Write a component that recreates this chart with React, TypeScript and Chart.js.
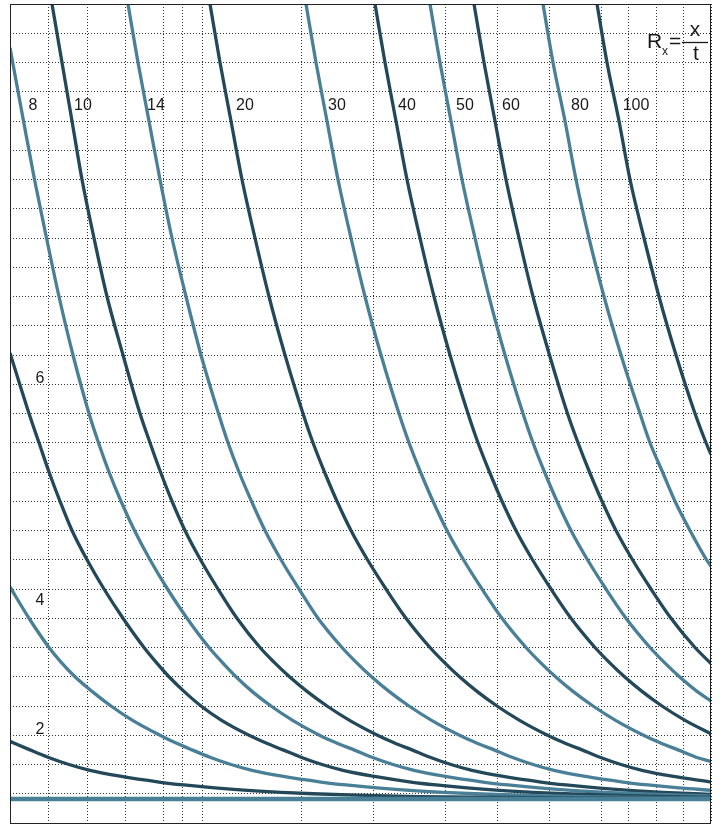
import React, { useEffect, useRef } from "react";
import { Chart, registerables } from "chart.js";

Chart.register(...registerables);

const DARK = "#234859";
const LIGHT = "#4a7f98";

// irregular vertical grid positions (x units) and horizontal grid (y units)
const gridX = [0, 38, 77, 115, 153, 172, 192, 291, 363, 435, 487, 539, 591, 618, 646, 673, 701];
const gridY = [0, 1, 2, 3, 4, 5, 6, 7, 8, 9, 10, 11, 12, 13, 14, 15, 16, 17, 18, 19, 20, 21, 22, 23, 24, 25, 26, 27, 28];

// curve readings [x, y]
const r2 = [[0, 2.79], [20, 2.5], [38, 2.25], [59, 2], [80, 1.8], [110, 1.6], [149, 1.4], [174, 1.3], [205, 1.2], [245, 1.1], [271, 1.05], [303, 1.0], [346, 0.95], [409, 0.9], [550, 0.86], [701, 0.84]];
const r4 = [[0, 8.07], [19, 7], [39, 6], [51, 5.5], [65, 5], [82, 4.5], [101, 4], [123, 3.5], [150, 3], [165, 2.75], [182, 2.5], [200, 2.25], [221, 2], [242, 1.8], [272, 1.6], [311, 1.4], [336, 1.3], [367, 1.2], [407, 1.1], [433, 1.05], [465, 1.0], [508, 0.95], [571, 0.9], [701, 0.86]];
const r6 = [[0, 16.07], [19, 14], [29, 13], [39, 12], [50, 11], [62, 10], [77, 9], [94, 8], [113, 7], [134, 6], [146, 5.5], [159, 5], [174, 4.5], [191, 4], [212, 3.5], [239, 3], [255, 2.75], [273, 2.5], [291, 2.25], [312, 2], [333, 1.8], [363, 1.6], [401, 1.4], [426, 1.3], [457, 1.2], [497, 1.1], [523, 1.05], [555, 1.0], [598, 0.95], [661, 0.9], [701, 0.88]];
const r8 = [[0, 26.5], [13.5, 24], [24.5, 22], [36.5, 20], [49, 18], [63, 16], [79, 14], [88.5, 13], [99, 12], [111, 11], [124.5, 10], [140, 9], [157.5, 8], [177, 7], [199, 6], [212, 5.5], [226, 5], [242, 4.5], [261, 4], [283, 3.5], [309.5, 3], [325.5, 2.75], [344, 2.5], [362, 2.25], [383, 2], [404, 1.8], [434, 1.6], [473, 1.4], [498, 1.3], [529, 1.2], [569, 1.1], [595, 1.05], [627, 1.0], [670, 0.95], [701, 0.93]];
const r10 = [[42, 28], [52, 26], [62, 24], [72, 22], [84, 20], [97, 18], [113, 16], [130, 14], [140, 13], [150.5, 12], [162, 11], [175, 10], [190.5, 9], [208, 8], [227, 7], [250, 6], [264, 5.5], [279.5, 5], [297, 4.5], [317, 4], [340, 3.5], [367.5, 3], [383.5, 2.75], [402, 2.5], [420, 2.25], [441, 2], [462, 1.8], [492, 1.6], [531, 1.4], [556, 1.3], [587, 1.2], [627, 1.1], [653, 1.05], [685, 1.0], [701, 0.98]];
const r14 = [[118, 28], [128, 26], [139, 24], [150, 22], [162, 20], [176, 18], [191, 16], [208.5, 14], [218, 13], [229, 12], [241.5, 11], [255, 10], [271, 9], [289, 8], [308, 7], [332, 6], [346, 5.5], [361.5, 5], [379, 4.5], [399, 4], [422, 3.5], [449.5, 3], [465.5, 2.75], [484, 2.5], [502, 2.25], [523, 2], [544, 1.8], [574, 1.6], [613, 1.4], [638, 1.3], [669, 1.2], [701, 1.12]];
const r20 = [[200, 28], [210, 26], [221, 24], [232, 22], [245, 20], [259, 18], [275, 16], [293, 14], [303, 13], [314.5, 12], [327, 11], [341, 10], [357.5, 9], [376, 8], [396, 7], [420, 6], [434, 5.5], [449.5, 5], [467, 4.5], [487, 4], [510, 3.5], [537.5, 3], [553.5, 2.75], [572, 2.5], [590, 2.25], [611, 2], [632, 1.8], [662, 1.6], [701, 1.4]];
const r30 = [[296, 28], [306, 26], [317, 24], [328, 22], [341, 20], [355, 18], [371, 16], [389, 14], [399, 13], [410.5, 12], [423, 11], [437, 10], [453.5, 9], [472, 8], [492, 7], [516, 6], [530, 5.5], [545.5, 5], [563, 4.5], [583, 4], [606, 3.5], [633.5, 3], [649.5, 2.75], [668, 2.5], [686, 2.25], [701, 2.1]];
const r40 = [[365, 28], [375, 26], [386, 24], [397, 22], [410, 20], [424, 18], [440, 16], [458, 14], [468, 13], [479.5, 12], [492, 11], [506, 10], [522.5, 9], [541, 8], [561, 7], [585, 6], [599, 5.5], [614.5, 5], [632, 4.5], [652, 4], [675.5, 3.5], [701, 3.05]];
const r50 = [[420, 28], [430, 26], [441, 24], [452, 22], [465, 20], [479, 18], [495, 16], [513, 14], [523, 13], [534.5, 12], [547, 11], [561, 10], [577.5, 9], [596, 8], [616, 7], [640, 6], [654, 5.5], [669.5, 5], [687, 4.5], [701, 4.17]];
const r60 = [[464, 28], [474, 26], [485, 24], [496, 22], [509, 20], [523, 18], [539.5, 16], [557.5, 14], [568, 13], [579.5, 12], [592, 11], [606, 10], [622.5, 9], [641, 8], [661, 7], [685, 6], [701, 5.45]];
const r80 = [[533, 28], [543, 26], [555, 24], [566, 22], [579, 20], [594, 18], [611, 16], [630, 14], [640, 13], [652.5, 12], [665, 11], [680, 10], [696.5, 9], [701, 8.78]];
const r100 = [[587, 28], [597, 26], [609, 24], [620, 22], [634, 20], [649, 18], [666, 16], [685, 14], [696, 13], [701, 12.6]];
const baseline = [[0, 0.82], [701, 0.82]];

// curve labels
const topLabels = ["8", "10", "14", "20", "30", "40", "50", "60", "80", "100"];
const topLabelX = [23, 73, 146, 235, 327, 397, 455, 501, 570, 626];
const topLabelY = 24.51;
const sideLabels = ["6", "4", "2"];
const sideLabelX = 30;
const sideLabelY = [15.18, 7.59, 3.18];

const FONT = "'Liberation Sans', Arial, Helvetica, sans-serif";

const toPts = (arr: number[][]) => arr.map(([x, y]) => ({ x, y }));

const series: { pts: number[][]; color: string; width: number }[] = [
  { pts: baseline, color: LIGHT, width: 4.5 },
  { pts: r2, color: DARK, width: 3.3 },
  { pts: r4, color: LIGHT, width: 3.3 },
  { pts: r6, color: DARK, width: 3.3 },
  { pts: r8, color: LIGHT, width: 3.3 },
  { pts: r10, color: DARK, width: 3.3 },
  { pts: r14, color: LIGHT, width: 3.3 },
  { pts: r20, color: DARK, width: 3.3 },
  { pts: r30, color: LIGHT, width: 3.3 },
  { pts: r40, color: DARK, width: 3.3 },
  { pts: r50, color: LIGHT, width: 3.3 },
  { pts: r60, color: DARK, width: 3.3 },
  { pts: r80, color: LIGHT, width: 3.3 },
  { pts: r100, color: DARK, width: 3.3 },
];

const decorPlugin = {
  id: "decor",
  afterDatasetsDraw(chart: any) {
    const { ctx, chartArea, scales } = chart;
    const xs = scales.x;
    const ys = scales.y;
    ctx.save();
    ctx.fillStyle = "#1a1a1a";
    ctx.font = `16px ${FONT}`;
    ctx.textAlign = "center";
    ctx.textBaseline = "middle";
    topLabels.forEach((t, i) => {
      ctx.fillText(t, xs.getPixelForValue(topLabelX[i]), ys.getPixelForValue(topLabelY));
    });
    sideLabels.forEach((t, i) => {
      ctx.fillText(t, xs.getPixelForValue(sideLabelX), ys.getPixelForValue(sideLabelY[i]));
    });

    // formula R_x = x / t
    const R = chartArea.right;
    const T = chartArea.top;
    ctx.textBaseline = "alphabetic";
    ctx.textAlign = "left";
    ctx.font = `21px ${FONT}`;
    ctx.fillText("R", R - 64, T + 44);
    ctx.font = `12px ${FONT}`;
    ctx.fillText("x", R - 49, T + 51);
    ctx.font = `21px ${FONT}`;
    ctx.fillText("=", R - 42, T + 44);
    ctx.textAlign = "center";
    ctx.fillText("x", R - 16, T + 32);
    ctx.fillText("t", R - 15, T + 56);
    ctx.strokeStyle = "#1a1a1a";
    ctx.lineWidth = 1.3;
    ctx.beginPath();
    ctx.moveTo(R - 29, T + 38.5);
    ctx.lineTo(R - 3, T + 38.5);
    ctx.stroke();

    // frame
    ctx.strokeStyle = "#222";
    ctx.lineWidth = 1;
    ctx.strokeRect(chartArea.left + 0.5, chartArea.top + 0.5, chartArea.right - chartArea.left - 1, chartArea.bottom - chartArea.top);
    ctx.restore();
  },
};

export default function App() {
  const ref = useRef<HTMLCanvasElement | null>(null);

  useEffect(() => {
    if (!ref.current) return;
    const chart = new Chart(ref.current, {
      type: "scatter",
      data: {
        datasets: series.map((s) => ({
          data: toPts(s.pts),
          showLine: true,
          borderColor: s.color,
          backgroundColor: s.color,
          borderWidth: s.width,
          pointRadius: 0,
          pointHoverRadius: 0,
          cubicInterpolationMode: "monotone" as const,
          fill: false,
        })),
      },
      options: {
        animation: false,
        responsive: false,
        events: [],
        layout: { padding: { left: 10, right: 15, top: 4, bottom: 2 } },
        plugins: { legend: { display: false }, tooltip: { enabled: false } },
        scales: {
          x: {
            type: "linear",
            min: 0,
            max: 701,
            afterBuildTicks: (axis: any) => {
              axis.ticks = gridX.map((v) => ({ value: v }));
            },
            ticks: { display: false },
            grid: { color: "rgba(25,25,25,0.9)", lineWidth: 1, drawTicks: false },
            border: { display: false, dash: [1, 2] },
          },
          y: {
            type: "linear",
            min: 0,
            max: 28,
            afterBuildTicks: (axis: any) => {
              axis.ticks = gridY.map((v) => ({ value: v }));
            },
            ticks: { display: false },
            grid: { color: "rgba(25,25,25,0.9)", lineWidth: 1, drawTicks: false },
            border: { display: false, dash: [1, 2] },
          },
        },
      },
      plugins: [decorPlugin],
    } as any);
    return () => chart.destroy();
  }, []);

  return (
    <div style={{ position: "absolute", left: 0, top: 0, width: 726, height: 825, background: "#fff" }}>
      <canvas ref={ref} width={726} height={825} style={{ display: "block" }} />
    </div>
  );
}
